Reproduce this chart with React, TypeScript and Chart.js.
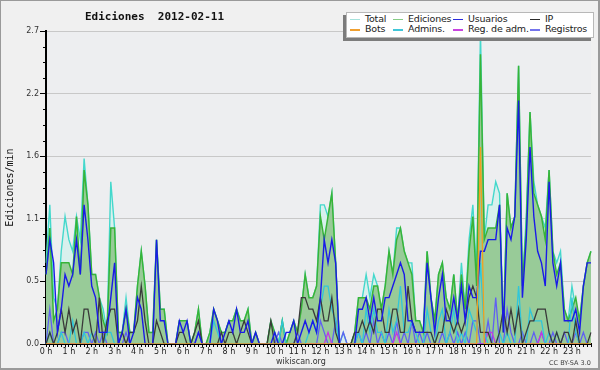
import React, { useEffect, useRef } from 'react';
import { Chart, registerables } from 'chart.js';

Chart.register(...registerables);

// 10-minute slots over the day
const slotLabels: string[] = Array.from({ length: 144 }, (_, i) => `${Math.floor(i / 6)}:${String((i % 6) * 10).padStart(2, '0')}`);

const hourLabels = ['0 h', '1 h', '2 h', '3 h', '4 h', '5 h', '6 h', '7 h', '8 h', '9 h', '10 h', '11 h',
  '12 h', '13 h', '14 h', '15 h', '16 h', '17 h', '18 h', '19 h', '20 h', '21 h', '22 h', '23 h'];

const yTickValues = [0, 0.54, 1.08, 1.62, 2.16, 2.7];

const total = [
  0.7, 1.2, 0.4, 0.3, 0.8, 1.1, 0.9, 0.8, 1.1, 0.9, 1.6, 1.2,
  0.6, 0.6, 0.4, 0.3, 0.1, 1.4, 1.0, 0.1, 0.1, 0.4, 0.1, 0.1,
  0.5, 0.8, 0.5, 0.1, 0.1, 0.9, 0.3, 0.3, 0, 0, 0, 0.2,
  0.2, 0.2, 0, 0.1, 0.3, 0, 0, 0.1, 0.3, 0.2, 0.1, 0.1,
  0.2, 0.2, 0.3, 0.2, 0.2, 0.3, 0, 0.1, 0, 0, 0, 0.2,
  0.1, 0, 0.2, 0, 0.1, 0.2, 0.1, 0.3, 0.6, 0.4, 0.4, 0.5,
  1.2, 1.2, 1.1, 1.3, 0.7, 0, 0.1, 0, 0, 0.1, 0.4, 0.4,
  0.6, 0.4, 0.6, 0.5, 0.3, 0.5, 0.8, 0.6, 1.0, 1.0, 0.8, 0.7,
  0.7, 0.2, 0.2, 0.1, 0.8, 0.4, 0.2, 0.6, 0.7, 0.4, 0.3, 0.6,
  0.2, 0.7, 0.3, 0.9, 1.2, 0.6, 2.7, 0.9, 1.2, 1.2, 1.4, 1.3,
  0.1, 1.3, 1.0, 1.1, 2.4, 0.5, 1.1, 2.0, 1.4, 1.2, 1.1, 1.0,
  1.5, 0.8, 0.7, 0.8, 0.3, 0.2, 0.5, 0.3, 0.2, 0.5, 0.7, 0.8,
];

const ediciones = [
  0.6, 1.0, 0.2, 0.3, 0.7, 0.7, 0.7, 0.6, 1.1, 0.6, 1.5, 1.2,
  0.6, 0.6, 0.4, 0.2, 0.1, 1.0, 1.0, 0.1, 0.1, 0.3, 0.1, 0.1,
  0.5, 0.8, 0.5, 0.1, 0.1, 0.9, 0.3, 0.3, 0, 0, 0, 0.2,
  0.2, 0.2, 0, 0.1, 0.3, 0, 0, 0.1, 0.3, 0.2, 0.1, 0.1,
  0.2, 0.2, 0.3, 0.2, 0.2, 0.3, 0, 0.1, 0, 0, 0, 0.2,
  0.1, 0, 0.2, 0, 0.1, 0.2, 0.1, 0.3, 0.6, 0.4, 0.4, 0.5,
  1.1, 0.9, 1.1, 1.3, 0.7, 0, 0, 0, 0, 0.1, 0.4, 0.4,
  0.4, 0.3, 0.5, 0.5, 0.3, 0.5, 0.8, 0.6, 0.9, 1.0, 0.8, 0.7,
  0.6, 0.2, 0.2, 0.1, 0.8, 0.4, 0.2, 0.6, 0.7, 0.4, 0.3, 0.6,
  0.2, 0.6, 0.3, 0.8, 1.1, 0.5, 2.5, 0.9, 1.0, 1.0, 1.0, 1.2,
  0.1, 1.3, 1.0, 1.1, 2.4, 0.5, 1.0, 2.0, 1.3, 1.2, 1.1, 0.9,
  1.5, 0.8, 0.6, 0.7, 0.3, 0.2, 0.3, 0.4, 0.2, 0.5, 0.7, 0.8,
];

const usuarios = [
  0.6, 0.9, 0.7, 0.1, 0.3, 0.6, 0.5, 0.6, 0.9, 0.6, 1.2, 0.9,
  0.5, 0.4, 0.1, 0.1, 0.1, 0.4, 0.7, 0, 0.1, 0.3, 0, 0.1,
  0.4, 0.3, 0, 0, 0, 0.9, 0.2, 0.2, 0, 0, 0, 0.2,
  0.1, 0.2, 0, 0, 0.1, 0, 0, 0, 0.3, 0.2, 0, 0.1,
  0.2, 0.1, 0.3, 0.1, 0.1, 0.2, 0, 0.1, 0, 0, 0, 0,
  0.1, 0, 0, 0.1, 0.1, 0.2, 0, 0.1, 0.2, 0.1, 0.2, 0.1,
  0.4, 0.9, 0.7, 0.9, 0.7, 0, 0, 0, 0, 0, 0.3, 0.3,
  0.4, 0.2, 0.4, 0.2, 0.2, 0.4, 0.4, 0.5, 0.6, 0.7, 0.6, 0.2,
  0.2, 0.1, 0.1, 0.1, 0.7, 0.4, 0.1, 0.4, 0.6, 0.2, 0.2, 0.4,
  0.2, 0.5, 0.2, 0.5, 0.4, 0.4, 0.8, 0.8, 0.9, 0.9, 0.9, 1.2,
  0.1, 1.0, 0.9, 1.1, 2.1, 0.4, 0.9, 1.7, 1.1, 0.8, 0.7, 0.5,
  1.4, 0.7, 0.5, 0.7, 0.2, 0.2, 0.2, 0.3, 0.1, 0.5, 0.7, 0.7,
];

const ip = [
  0, 0.1, 0, 0.1, 0.3, 0.1, 0.3, 0.1, 0.2, 0, 0.3, 0.3,
  0.1, 0, 0.4, 0, 0.2, 0.3, 0.3, 0, 0.1, 0, 0.1, 0.1,
  0.2, 0.5, 0.2, 0, 0, 0.2, 0.1, 0, 0, 0, 0, 0.1,
  0.1, 0, 0, 0.1, 0.2, 0, 0, 0, 0, 0, 0.1, 0,
  0.1, 0.1, 0, 0.1, 0.2, 0.1, 0, 0, 0, 0, 0, 0.2,
  0, 0, 0, 0, 0, 0, 0.1, 0.4, 0.4, 0.3, 0.3, 0.2,
  0.4, 0.2, 0.2, 0.4, 0.1, 0, 0, 0, 0, 0.1, 0.1, 0.2,
  0.1, 0.2, 0.1, 0.3, 0.3, 0.1, 0.1, 0.3, 0.3, 0.1, 0.1, 0.5,
  0.2, 0.1, 0.1, 0.1, 0.1, 0.1, 0, 0.1, 0.1, 0.3, 0.2, 0.1,
  0.2, 0.1, 0.2, 0.4, 0.5, 0.4, 0.1, 0.1, 0.1, 0, 0, 0.1,
  0.3, 0.1, 0.3, 0.1, 0.3, 0, 0.1, 0.2, 0.2, 0.3, 0.3, 0.3,
  0.1, 0, 0.1, 0, 0.1, 0.1, 0, 0.2, 0, 0, 0, 0.1,
];

const bots = [
  0, 0, 0, 0, 0, 0, 0, 0, 0, 0, 0, 0,
  0, 0, 0, 0, 0, 0, 0, 0, 0, 0, 0, 0,
  0, 0, 0, 0, 0, 0, 0, 0, 0, 0, 0, 0,
  0, 0, 0, 0, 0, 0, 0, 0, 0, 0, 0, 0,
  0, 0, 0, 0, 0, 0, 0, 0, 0, 0, 0, 0,
  0, 0, 0, 0, 0, 0, 0, 0, 0, 0, 0, 0,
  0, 0, 0, 0, 0, 0, 0, 0, 0, 0, 0, 0,
  0, 0, 0, 0, 0, 0, 0, 0, 0, 0, 0, 0,
  0, 0, 0, 0, 0, 0, 0, 0, 0, 0, 0, 0,
  0, 0, 0, 0, 0, 0, 1.7, 0, 0, 0, 0, 0,
  0, 0, 0, 0, 0, 0, 0, 0, 0, 0, 0, 0,
  0, 0, 0, 0, 0, 0, 0, 0, 0, 0, 0, 0,
];

const admins = [
  0, 0.1, 0, 0, 0.1, 0, 0, 0.2, 0, 0, 0.1, 0,
  0.1, 0, 0, 0, 0.1, 0.1, 0, 0, 0, 0, 0, 0,
  0, 0, 0, 0, 0, 0, 0, 0, 0, 0, 0, 0,
  0, 0, 0, 0, 0, 0, 0, 0, 0.2, 0.1, 0, 0,
  0, 0, 0, 0, 0, 0, 0, 0, 0, 0, 0, 0,
  0, 0, 0.2, 0, 0, 0, 0, 0, 0, 0.1, 0.2, 0.1,
  0.3, 0.5, 0.5, 0.3, 0.2, 0, 0, 0, 0, 0, 0.1, 0,
  0.3, 0.1, 0.3, 0.1, 0.1, 0, 0.3, 0.1, 0.2, 0.5, 0.1, 0.1,
  0.2, 0.1, 0, 0, 0.3, 0.1, 0, 0.2, 0.3, 0, 0.1, 0.3,
  0, 0.1, 0, 0.3, 0.2, 0.1, 0.7, 0.1, 0, 0, 0, 0.1,
  0, 0.1, 0, 0, 0.5, 0, 0, 0.3, 0.2, 0.2, 0.2, 0,
  0.1, 0, 0.1, 0, 0, 0, 0.4, 0.1, 0, 0, 0, 0,
];

const regAdm = [
  0, 0, 0, 0, 0, 0, 0, 0, 0, 0, 0, 0,
  0, 0, 0, 0, 0, 0, 0, 0, 0, 0, 0, 0,
  0, 0, 0, 0, 0, 0, 0, 0, 0, 0, 0, 0,
  0, 0, 0, 0, 0, 0, 0, 0, 0, 0, 0, 0,
  0, 0, 0, 0, 0, 0, 0, 0, 0, 0, 0, 0,
  0, 0, 0, 0, 0, 0, 0, 0, 0, 0, 0, 0,
  0, 0, 0.1, 0, 0, 0, 0, 0, 0, 0, 0, 0,
  0, 0, 0, 0, 0, 0, 0, 0, 0.1, 0, 0, 0,
  0, 0, 0, 0, 0, 0, 0, 0, 0, 0, 0, 0,
  0, 0, 0, 0, 0, 0, 0, 0, 0.1, 0.1, 0, 0,
  0, 0, 0, 0, 0, 0, 0, 0, 0, 0, 0.1, 0,
  0, 0, 0, 0, 0, 0, 0, 0, 0, 0, 0, 0,
];

const registros = [
  0, 0.3, 0, 0, 0.1, 0.1, 0, 0, 0, 0, 0.1, 0.1,
  0, 0.1, 0, 0.1, 0, 0, 0, 0, 0, 0.1, 0, 0,
  0, 0, 0, 0, 0, 0, 0, 0, 0, 0, 0, 0,
  0, 0, 0, 0, 0.1, 0, 0, 0, 0, 0, 0, 0,
  0, 0, 0, 0, 0, 0, 0, 0, 0, 0, 0, 0,
  0, 0.1, 0, 0, 0, 0, 0.1, 0, 0, 0, 0, 0,
  0.2, 0.1, 0, 0, 0.2, 0, 0.1, 0, 0, 0, 0.1, 0,
  0.1, 0, 0.2, 0, 0.1, 0, 0.1, 0, 0.2, 0, 0.1, 0,
  0.2, 0, 0.1, 0, 0.1, 0, 0, 0, 0.1, 0, 0.1, 0,
  0.1, 0, 0.1, 0, 0.2, 0.2, 0, 0, 0.2, 0, 0.4, 0,
  0, 0.3, 0.1, 0, 0, 0.1, 0, 0, 0.1, 0, 0.1, 0,
  0, 0.1, 0, 0, 0.1, 0, 0, 0.1, 0, 0.1, 0, 0,
];

const legendItems = [
  { label: 'Total', color: '#a6e2dc' },
  { label: 'Ediciones', color: '#86cc86' },
  { label: 'Usuarios', color: '#2c2cdc' },
  { label: 'IP', color: '#2a2a2a' },
  { label: 'Bots', color: '#f0a030' },
  { label: 'Admins.', color: '#40c6d8' },
  { label: 'Reg. de adm.', color: '#c844e0' },
  { label: 'Registros', color: '#7474ec' },
];

const legendColX = [350, 393, 453, 530];
const legendRowY = [19, 29.5];

const bgPlugin = {
  id: 'areaBg',
  beforeDraw(chart: any) {
    const { ctx, chartArea } = chart;
    ctx.save();
    ctx.fillStyle = '#edeef0';
    ctx.fillRect(chartArea.left, chartArea.top, chartArea.right - chartArea.left, chartArea.bottom - chartArea.top);
    ctx.restore();
  },
  afterDraw(chart: any) {
    const { ctx, chartArea } = chart;
    const y = chart.scales.y;
    ctx.save();
    ctx.strokeStyle = '#000';
    ctx.lineWidth = 1;
    for (let k = 0; k < yTickValues.length - 1; k++) {
      const a = yTickValues[k];
      const b = yTickValues[k + 1];
      for (let q = 1; q < 4; q++) {
        const py = Math.round(y.getPixelForValue(a + ((b - a) * q) / 4)) + 0.5;
        ctx.beginPath();
        ctx.moveTo(chartArea.left - 3, py);
        ctx.lineTo(chartArea.left, py);
        ctx.stroke();
      }
    }
    ctx.restore();
  },
};

export default function App() {
  const ref = useRef<HTMLCanvasElement>(null);

  useEffect(() => {
    document.body.style.margin = '0';
    const line = (label: string, data: number[], color: string, order: number, width: number, extra: any = {}) => ({
      label,
      data,
      borderColor: color,
      borderWidth: width,
      pointRadius: 0,
      tension: 0,
      fill: false,
      order,
      ...extra,
    });
    const chart = new Chart(ref.current as HTMLCanvasElement, {
      type: 'line',
      data: {
        labels: slotLabels,
        datasets: [
          line('Bots', bots, '#f0a020', 1, 1.3),
          line('Usuarios', usuarios, '#1a1ae8', 2, 1.4),
          line('IP', ip, '#3a3a3a', 3, 1.3),
          line('Admins.', admins, '#30c6da', 4, 1.3),
          line('Reg. de adm.', regAdm, '#c438e0', 5, 1.3),
          line('Registros', registros, '#6060f2', 6, 1.3),
          line('Ediciones', ediciones, '#38b438', 7, 1.5, { fill: 'origin', backgroundColor: '#98cb98' }),
          line('Total', total, '#44d8cc', 8, 1.4, { fill: 'origin', backgroundColor: '#d8f0ed' }),
        ],
      },
      options: {
        responsive: false,
        animation: false,
        events: [],
        layout: { padding: { top: 31, right: 9, bottom: 0, left: 0 } },
        plugins: {
          legend: { display: false },
          tooltip: { enabled: false },
          title: { display: false },
        },
        scales: {
          x: {
            type: 'category',
            offset: false,
            afterFit: (s: any) => { s.height = 26; },
            grid: { display: true, drawOnChartArea: false, drawTicks: true, tickLength: 3, tickColor: '#000', tickWidth: 1 },
            border: { display: true, color: '#000', width: 2 },
            ticks: {
              autoSkip: false,
              maxRotation: 0,
              minRotation: 0,
              padding: 0,
              color: '#222',
              font: { family: 'DejaVu Sans', size: 8 },
              callback: (_v: any, idx: number) => (idx % 6 === 0 ? hourLabels[idx / 6] : ''),
            },
          },
          y: {
            type: 'linear',
            min: 0,
            max: 2.7,
            afterFit: (s: any) => { s.width = 46; },
            afterBuildTicks: (s: any) => { s.ticks = yTickValues.map((v) => ({ value: v })); },
            grid: { color: '#c8c8c8', lineWidth: 1, drawTicks: true, tickLength: 6, tickColor: '#000' },
            border: { display: true, color: '#000', width: 2 },
            ticks: {
              padding: 1,
              color: '#333',
              font: { family: 'DejaVu Sans', size: 8 },
              callback: (v: any) => Number(v).toFixed(1),
            },
            title: {
              display: true,
              text: 'Ediciones/min',
              color: '#111',
              font: { family: 'DejaVu Sans Mono', size: 10 },
              padding: { top: 4, bottom: 0 },
            },
          },
        },
      },
      plugins: [bgPlugin],
    } as any);
    return () => chart.destroy();
  }, []);

  return (
    <div style={{ position: 'relative', width: 600, height: 370, background: '#f0f0f0', overflow: 'hidden', fontFamily: 'DejaVu Sans' }}>
      <canvas ref={ref} width={600} height={370} style={{ position: 'absolute', left: 0, top: 0, width: 600, height: 370 }} />
      <div style={{ position: 'absolute', left: 85, top: 9, lineHeight: '15px', whiteSpace: 'pre', fontFamily: 'DejaVu Sans Mono', fontWeight: 'bold', fontSize: 11, color: '#111' }}>
        {'Ediciones  2012-02-11'}
      </div>
      <div style={{ position: 'absolute', left: 343, top: 15, width: 248, height: 26, background: '#7c7c7c' }} />
      <div style={{ position: 'absolute', left: 346, top: 12, width: 248, height: 26, boxSizing: 'border-box', background: '#fff', border: '1px solid #b8b8b8' }} />
      {legendItems.map((it, k) => {
        const col = k % 4;
        const row = Math.floor(k / 4);
        const x = legendColX[col];
        const y = legendRowY[row];
        return (
          <React.Fragment key={it.label}>
            <div style={{ position: 'absolute', left: x, top: y - 0.5, width: 10, height: 1.5, background: it.color }} />
            <div style={{ position: 'absolute', left: x + 15, top: y - 6.5, lineHeight: '12px', fontSize: 9.5, color: '#222', whiteSpace: 'pre', fontFamily: 'DejaVu Sans', letterSpacing: -0.2 }}>
              {it.label}
            </div>
          </React.Fragment>
        );
      })}
      <div style={{ position: 'absolute', left: 276, top: 356, lineHeight: '11px', fontSize: 8, color: '#333', fontFamily: 'DejaVu Sans' }}>wikiscan.org</div>
      <div style={{ position: 'absolute', left: 549, top: 359, lineHeight: '9px', fontSize: 6.5, color: '#444', fontFamily: 'DejaVu Sans' }}>CC BY-SA 3.0</div>
      <div style={{ position: 'absolute', left: 0, top: 0, width: 600, height: 370, boxSizing: 'border-box', border: '1px solid #9a9a9a', borderRightWidth: 2, borderBottomWidth: 2, pointerEvents: 'none' }} />
    </div>
  );
}
